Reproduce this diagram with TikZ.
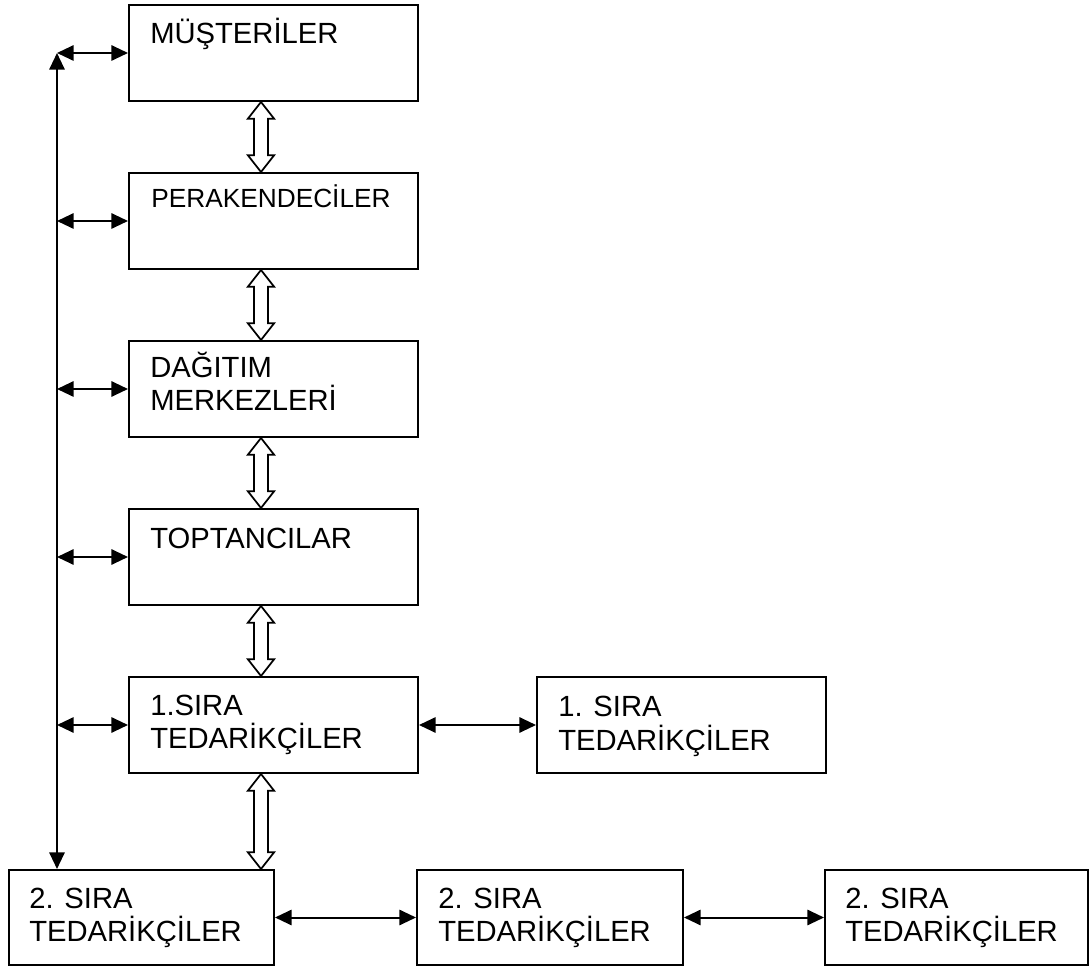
\documentclass[tikz,border=0pt]{standalone}
\usepackage{fontspec}
\setmainfont{Liberation Sans}
\usetikzlibrary{arrows.meta,calc}
\tikzset{
  box/.style={draw, line width=1.5pt, minimum width=216.75pt, minimum height=72pt, inner sep=0pt},
  lowbox/.style={draw, line width=1.5pt, minimum height=71.25pt, inner sep=0pt},
  lbl/.style={anchor=base west, inner sep=0pt, font=\fontsize{21.9}{26}\selectfont},
  smalllbl/.style={lbl, font=\fontsize{19.7}{23}\selectfont},
  link/.style={line width=1.5pt, {Triangle[length=12.5pt,width=11.5pt]}-{Triangle[length=12.5pt,width=11.5pt]}},
  hollow/.style={line width=1.3pt, fill=white, to path={
    let \p1=(\tikztostart), \p2=(\tikztotarget) in
    (\x1,\y1) -- (\x1+9.8pt,\y1-12.5pt) -- (\x1+5.2pt,\y1-12.5pt) -- (\x1+5.2pt,\y2+12.5pt)
    -- (\x1+9.8pt,\y2+12.5pt) -- (\x2,\y2) -- (\x1-9.8pt,\y2+12.5pt) -- (\x1-5.2pt,\y2+12.5pt)
    -- (\x1-5.2pt,\y1-12.5pt) -- (\x1-9.8pt,\y1-12.5pt) -- cycle}}
}
\begin{document}
\begin{tikzpicture}[x=0.75pt,y=-0.75pt]
\useasboundingbox (0,0) rectangle (1090,966);

% main column
\node[box] (m)  at (273.5,53)  {};
\node[box] (p)  at (273.5,221) {};
\node[box] (d)  at (273.5,389) {};
\node[box] (t)  at (273.5,557) {};
\node[box] (s1) at (273.5,725) {};
\node[box] (s1r) at (681.5,725) {};

% second tier suppliers
\node[lowbox, minimum width=198.75pt] (b1) at (141.5,917.5) {};
\node[lowbox, minimum width=199.5pt]  (b2) at (550,917.5) {};
\node[lowbox, minimum width=197.25pt] (b3) at (956.5,917.5) {};

% labels
\node[lbl] (lm) at (150,43.3) {MÜŞTERİLER};
\node[smalllbl] (lp) at (151,207.3) {PERAKENDECİLER};
\node[lbl] (ld1) at (150,377.5) {DAĞITIM};
\node[lbl] (ld2) at (150,411) {MERKEZLERİ};
\node[lbl] (lt) at (150,548.3) {TOPTANCILAR};
\node[lbl] (ls1a) at (150,715) {1.SIRA};
\node[lbl] (ls1b) at (150,748.5) {TEDARİKÇİLER};
\node[lbl] (lsra) at (558,716.7) {1. SIRA};
\node[lbl] (lsrb) at (558,750.2) {TEDARİKÇİLER};
\node[lbl] (lb1a) at (29,908.3) {2. SIRA};
\node[lbl] (lb1b) at (29,941.8) {TEDARİKÇİLER};
\node[lbl] (lb2a) at (438,908.3) {2. SIRA};
\node[lbl] (lb2b) at (438,941.8) {TEDARİKÇİLER};
\node[lbl] (lb3a) at (845,908.3) {2. SIRA};
\node[lbl] (lb3b) at (845,941.8) {TEDARİKÇİLER};

% hollow flow arrows along the chain
\coordinate (hx) at (261,0);
\draw[hollow] (m.south -| hx) to (p.north -| hx);
\draw[hollow] (p.south -| hx) to (d.north -| hx);
\draw[hollow] (d.south -| hx) to (t.north -| hx);
\draw[hollow] (t.south -| hx) to (s1.north -| hx);
\draw[hollow] (s1.south -| hx) to (b1.north -| hx);

% information line on the left
\coordinate (vtop) at (57,53);
\draw[link] (vtop) -- (b1.north -| vtop);
\draw[link] (vtop) -- (m.west);
\draw[link] (p.west -| vtop) -- (p.west);
\draw[link] (d.west -| vtop) -- (d.west);
\draw[link] (t.west -| vtop) -- (t.west);
\draw[link] (s1.west -| vtop) -- (s1.west);

% horizontal links between suppliers
\draw[link] (s1.east) -- (s1r.west);
\draw[link] (b1.east) -- (b2.west);
\draw[link] (b2.east) -- (b3.west);
\end{tikzpicture}
\end{document}
